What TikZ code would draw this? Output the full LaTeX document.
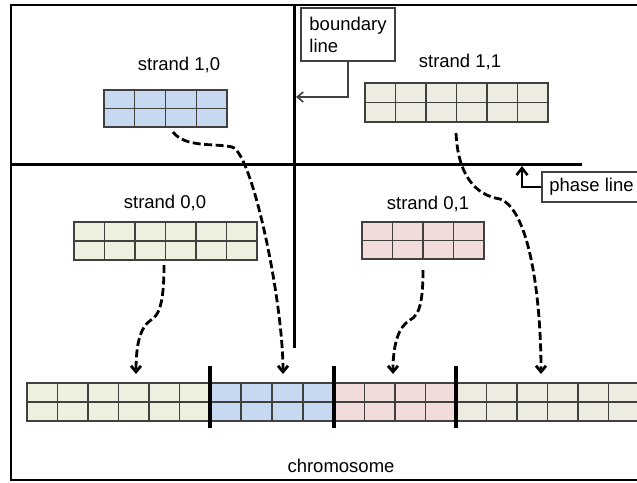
\documentclass[tikz,border=0pt]{standalone}
\usepackage{fontspec}
\setmainfont{Liberation Sans}
\usetikzlibrary{arrows.meta,calc}

\definecolor{cellblue}{HTML}{C6D9F1}
\definecolor{cellgreen}{HTML}{EBF1DE}
\definecolor{cellpink}{HTML}{F2DCDB}
\definecolor{cellbeige}{HTML}{EEECE1}
\definecolor{gridgray}{HTML}{404040}

\tikzset{
  strandbox/.style={draw=gridgray, line width=1.2pt, inner sep=0pt, outer sep=0pt, minimum height=38},
  gridline/.style={draw=gridgray, line width=1.2pt},
  lbl/.style={inner sep=0pt, font=\fontsize{18.5}{22}\selectfont},
  callout/.style={draw=gridgray, line width=1.2pt, fill=white, inner sep=0pt,
    font=\fontsize{18.5}{22}\selectfont},
  frame/.style={line width=2.4pt},
  mainline/.style={line width=3pt},
  sepline/.style={line width=3.5pt},
  callline/.style={draw=gridgray, line width=1.6pt, -{Straight Barb[length=6pt,width=10pt]}},
  phasearrow/.style={line width=2.6pt, -{Straight Barb[length=7pt,width=11pt]}},
  dashedarrow/.style={line width=2.8pt, dash pattern=on 8pt off 3.5pt,
    -{Straight Barb[length=6pt,width=10pt]}}
}

% interior cell lines of a strand: one horizontal split, n-1 vertical splits
\newcommand\cellgrid[2]{%
  \draw[gridline] (#1.west) -- (#1.east);
  \pgfmathtruncatemacro\lastcol{#2-1}%
  \foreach \i in {1,...,\lastcol}{
    \draw[gridline] ($(#1.north west)!\i/#2!(#1.north east)$) --
                    ($(#1.south west)!\i/#2!(#1.south east)$);
  }%
}

\begin{document}
\begin{tikzpicture}[x=1pt,y=-1pt]
\useasboundingbox (0,0) rectangle (637,482);
\clip (0,0) rectangle (637,482);
\fill[white] (0,0) rectangle (637,482);

% outer frame
\draw[frame] (11,5) rectangle (680,480);

% boundary line and phase line
\coordinate (btop) at (294,5);
\coordinate (bbot) at (294,348);
\coordinate (pleft) at (11,164);
\coordinate (pright) at (582,164);
\draw[mainline] (btop) -- (bbot);
\draw[mainline] (pleft) -- (pright);

% strands
\node[strandbox, fill=cellblue,  minimum width=123, minimum height=37] (s10) at (165.5,108.5) {};
\node[strandbox, fill=cellbeige, minimum width=183, minimum height=39] (s11) at (456.5,102.5) {};
\node[strandbox, fill=cellgreen, minimum width=183] (s00) at (165.5,241) {};
\node[strandbox, fill=cellpink,  minimum width=122, minimum height=37] (s01) at (423,240.5) {};
\cellgrid{s10}{4}
\cellgrid{s11}{6}
\cellgrid{s00}{6}
\cellgrid{s01}{4}

\node[lbl, anchor=base] (l10) at (179,70) {strand 1,0};
\node[lbl, anchor=base] (l11) at (460,67) {strand 1,1};
\node[lbl, anchor=base] (l00) at (165,208) {strand 0,0};
\node[lbl, anchor=base] (l01) at (428,209) {strand 0,1};

% chromosome
\node[strandbox, fill=cellgreen, minimum width=183] (cg) at (118.5,402) {};
\node[strandbox, fill=cellblue,  minimum width=124] (cb) at (272,402) {};
\node[strandbox, fill=cellpink,  minimum width=122] (cp) at (395,402) {};
\node[strandbox, fill=cellbeige, minimum width=183] (ce) at (547.5,402) {};
\cellgrid{cg}{6}
\cellgrid{cb}{4}
\cellgrid{cp}{4}
\cellgrid{ce}{6}
\foreach \seg in {cb,cp,ce}{
  \draw[sepline] ($(\seg.north west)+(0,-17)$) -- ($(\seg.south west)+(0,7)$);
}
\node[lbl, anchor=base] (chrom) at (341,472.5) {chromosome};

% callouts
\node[callout, minimum width=94, minimum height=53, align=left] (bnd) at (348,34.5) {boundary\\line};
\coordinate (bhit) at (296,97);
\draw[callline] (bnd.south) |- (bhit);

\node[callout, minimum width=99, minimum height=30] (ph) at (591.5,187) {phase line};
\coordinate (phit) at (522,166);
\draw[phasearrow] (ph.west) -| (phit);

% strand-to-chromosome mapping
\coordinate (a10s) at (173,132);  \coordinate (a10e) at (283,374);
\coordinate (a00s) at (164,265);  \coordinate (a00e) at (136,374);
\coordinate (a01s) at (423,270);  \coordinate (a01e) at (393,374);
\coordinate (a11s) at (456,133);  \coordinate (a11e) at (541,374);

\draw[dashedarrow] (a10s) .. controls (185,148) and (215,143) .. (232,147)
                          .. controls (252,152) and (283,300) .. (a10e);
\draw[dashedarrow] (a00s) .. controls (164,300) and (160,315) .. (151,320)
                          .. controls (140,327) and (136,345) .. (a00e);
\draw[dashedarrow] (a01s) .. controls (423,300) and (420,315) .. (410,320)
                          .. controls (398,327) and (393,345) .. (a01e);
\draw[dashedarrow] (a11s) .. controls (458,175) and (475,195) .. (500,199)
                          .. controls (530,210) and (541,300) .. (a11e);
\end{tikzpicture}
\end{document}
